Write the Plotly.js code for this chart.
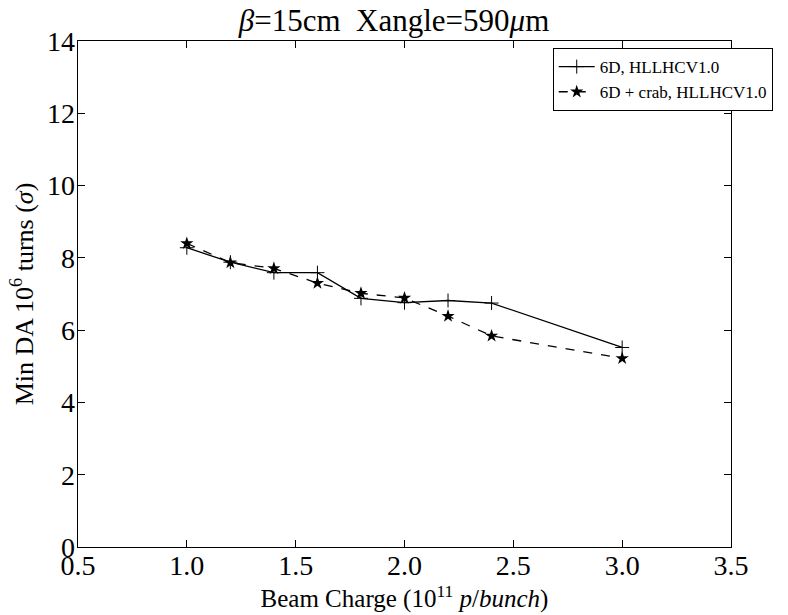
<!DOCTYPE html>
<html>
<head>
<meta charset="utf-8">
<script src="https://cdn.plot.ly/plotly-3.0.1.min.js"></script>
<style>html,body{margin:0;padding:0;background:#fff;}#chart{width:788px;height:615px;}</style>
</head>
<body>
<div id="chart"></div>
<script>
const beamCharge = [1.0, 1.2, 1.4, 1.6, 1.8, 2.0, 2.2, 2.4, 3.0];
const da6D = [8.28, 7.88, 7.59, 7.59, 6.88, 6.76, 6.82, 6.75, 5.52];
const da6DCrab = [8.40, 7.87, 7.71, 7.30, 7.02, 6.89, 6.39, 5.84, 5.22];
const seriesNames = ["6D, HLLHCV1.0", "6D + crab, HLLHCV1.0"];
const xTicks = [0.5, 1.0, 1.5, 2.0, 2.5, 3.0, 3.5];
const xTickText = ["0.5", "1.0", "1.5", "2.0", "2.5", "3.0", "3.5"];
const yTicks = [0, 2, 4, 6, 8, 10, 12, 14];

const serif = "Liberation Serif";

const traces = [
  {
    x: beamCharge, y: da6D, name: seriesNames[0], type: "scatter", mode: "lines+markers",
    line: {color: "black", width: 1.3},
    marker: {symbol: "cross-thin", size: 10, color: "black", line: {color: "black", width: 1}}
  },
  {
    x: beamCharge, y: da6DCrab, name: seriesNames[1], type: "scatter", mode: "lines+markers",
    line: {color: "black", width: 1.3, dash: "dash"},
    marker: {symbol: "star", size: 10, color: "black", line: {width: 0}}
  }
];

function axisBase() {
  return {
    showgrid: false, zeroline: false, showline: true, linecolor: "black", linewidth: 1.3,
    mirror: "allticks", ticks: "inside", ticklen: 7, tickcolor: "black", tickwidth: 1,
    tickfont: {family: serif, size: 28, color: "black"}
  };
}

const xaxis = axisBase();
xaxis.range = [0.5, 3.5];
xaxis.tickvals = xTicks;
xaxis.ticktext = xTickText;
xaxis.ticklabelstandoff = -7;
xaxis.title = {text: "Beam Charge (10<sup>11</sup> <i>p</i>/<i>bunch</i>)", font: {family: serif, size: 25, color: "black"}, standoff: 8};

const yaxis = axisBase();
yaxis.range = [0, 14];
yaxis.tickvals = yTicks;
yaxis.ticklabelstandoff = -4;
yaxis.title = {text: "Min DA 10<sup>6</sup> turns (<i>σ</i>)", font: {family: serif, size: 26, color: "black"}, standoff: 6};

const layout = {
  width: 788, height: 615,
  margin: {l: 78, r: 57, t: 41, b: 68},
  paper_bgcolor: "white", plot_bgcolor: "white",
  font: {family: serif, color: "black"},
  title: {text: "<i>β</i>=15cm&nbsp;&nbsp;Xangle=590<i>μ</i>m", font: {family: serif, size: 31, color: "black"},
          x: 0.5, xanchor: "center", y: 0.985, yanchor: "top"},
  xaxis: xaxis,
  yaxis: yaxis,
  showlegend: true,
  legend: {
    x: 0.727, xanchor: "left", y: 0.986, yanchor: "top",
    bgcolor: "white", bordercolor: "black", borderwidth: 1,
    font: {family: serif, size: 17, color: "black"},
    itemwidth: 36,
    tracegroupgap: 0
  }
};

Plotly.newPlot("chart", traces, layout, {staticPlot: true, displayModeBar: false});
</script>
</body>
</html>
